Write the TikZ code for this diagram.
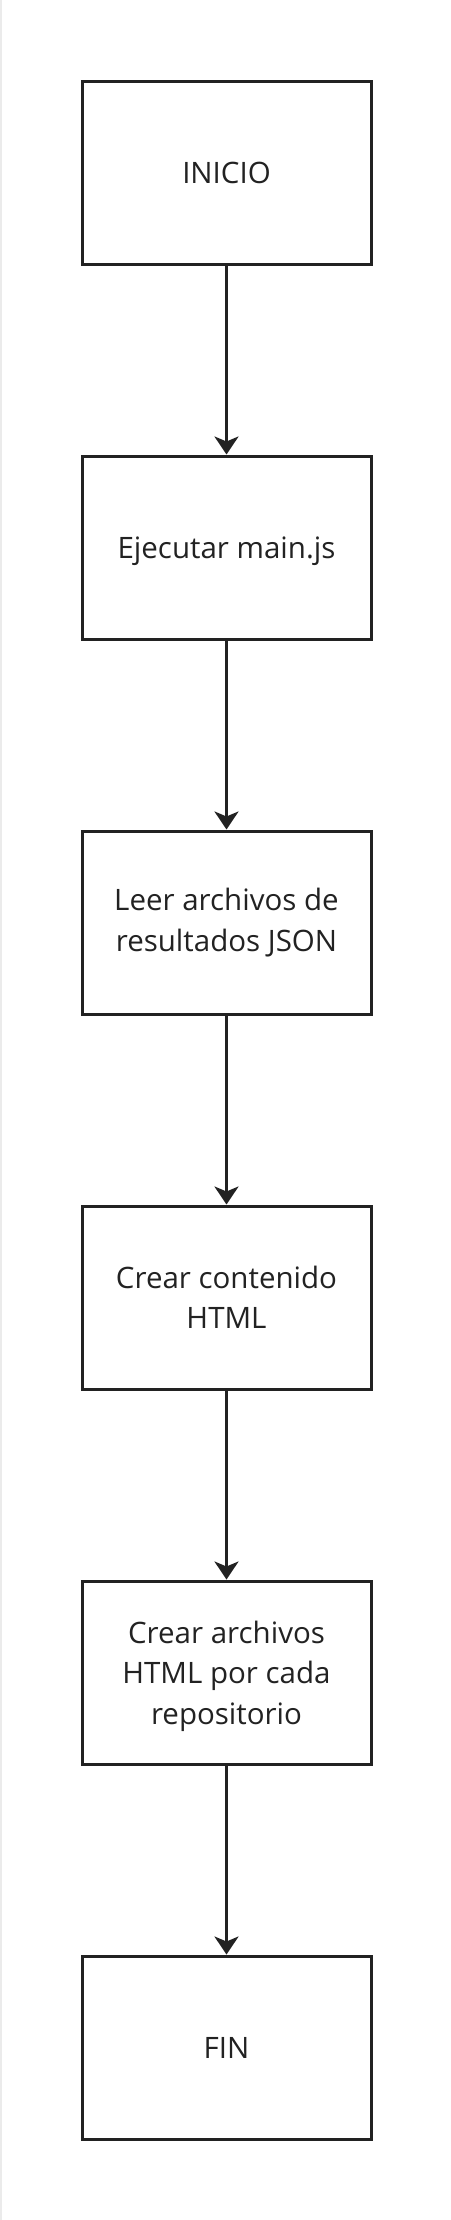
\documentclass[tikz,border=0pt]{standalone}
\usepackage{fontspec}
\setmainfont{Open Sans}
\usetikzlibrary{arrows.meta}
\definecolor{ink}{HTML}{222222}
\begin{document}
\begin{tikzpicture}[x=1pt,y=-1pt,
  stepbox/.style={draw=ink,line width=3pt,minimum width=289pt,minimum height=183pt,
    align=center,text=ink,font=\fontsize{29.5}{40.5}\selectfont,inner sep=0pt},
  flow/.style={draw=ink,line width=3pt,-{Stealth[length=18pt,width=24pt,inset=5pt]}}]
\useasboundingbox (0,0) rectangle (450,2220);
\fill[white] (0,0) rectangle (450,2220);
\draw[black!8,line width=1.5pt] (0.75,0) -- (0.75,2220);
\node[stepbox] (a) at (226.5,172.5) {INICIO};
\node[stepbox] (b) at (226.5,547.5) {E\smash{j}ecutar main.\smash{j}s};
\node[stepbox] (c) at (226.5,922.5) {Leer archivos de\\resultados JSON};
\node[stepbox] (d) at (226.5,1297.5) {Crear contenido\\HTML};
\node[stepbox] (e) at (226.5,1672.5) {Crear archivos\\HTML por cada\\re\smash{p}ositorio};
\node[stepbox] (f) at (226.5,2047.5) {FIN};
\draw[flow] (a) -- (b);
\draw[flow] (b) -- (c);
\draw[flow] (c) -- (d);
\draw[flow] (d) -- (e);
\draw[flow] (e) -- (f);
\end{tikzpicture}
\end{document}
